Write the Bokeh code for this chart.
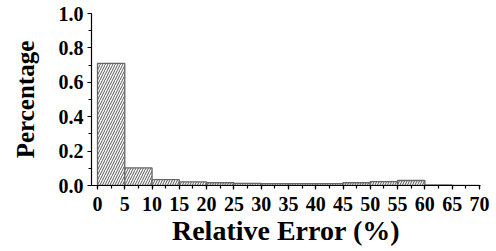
from bokeh.plotting import figure
from bokeh.models import SingleIntervalTicker, Range1d, CustomJSTickFormatter
from bokeh.embed import file_html
from bokeh.resources import INLINE

bin_left = [0, 5, 10, 15, 20, 25, 30, 35, 40, 45, 50, 55, 60, 65]
bin_right = [5, 10, 15, 20, 25, 30, 35, 40, 45, 50, 55, 60, 65, 70]
percentage = [0.71, 0.102, 0.034, 0.021, 0.016, 0.012, 0.011, 0.011, 0.011,
              0.016, 0.022, 0.029, 0.003, 0.0]

p = figure(width=490, height=248, output_backend="svg", toolbar_location=None,
           x_range=Range1d(-1.1, 70.2), y_range=Range1d(0, 1.0),
           min_border_left=91, min_border_right=10, min_border_top=13, min_border_bottom=63)
p.outline_line_color = None
p.grid.visible = False
p.background_fill_color = "white"

p.quad(left=bin_left, right=bin_right, bottom=0, top=percentage,
       fill_color="white", line_color="#666666", line_width=1.3,
       hatch_pattern="/", hatch_color="#555555", hatch_scale=5, hatch_weight=1)

font = "Liberation Serif"
for ax in (p.xaxis[0], p.yaxis[0]):
    ax.axis_line_color = "black"
    ax.axis_line_width = 1.2
    ax.major_tick_line_width = 1.2
    ax.minor_tick_line_width = 1.2
    ax.major_tick_in = 0
    ax.minor_tick_in = 0
    ax.major_label_text_font = font
    ax.major_label_text_font_style = "bold"
    ax.major_label_text_font_size = "20px"
    ax.major_label_text_color = "black"
    ax.axis_label_text_font = font
    ax.axis_label_text_font_style = "bold"
    ax.axis_label_text_color = "black"

p.xaxis.axis_label_text_font_size = "28px"
p.yaxis.axis_label_text_font_size = "25px"
p.xaxis.ticker = SingleIntervalTicker(interval=5, num_minor_ticks=2)
p.yaxis.ticker = SingleIntervalTicker(interval=0.2, num_minor_ticks=2)
p.xaxis.major_tick_out = 4
p.xaxis.minor_tick_out = 3
p.yaxis.major_tick_out = 4
p.yaxis.minor_tick_out = 3
p.xaxis.major_label_standoff = 7
p.yaxis.major_label_standoff = 4
p.xaxis.axis_label = "Relative Error (%)"
p.yaxis.axis_label = "Percentage"
p.xaxis.axis_label_standoff = 1
p.yaxis.axis_label_standoff = 17
p.yaxis.formatter = CustomJSTickFormatter(code="return tick.toFixed(1);")

open("out.html", "w").write(file_html(p, INLINE))
